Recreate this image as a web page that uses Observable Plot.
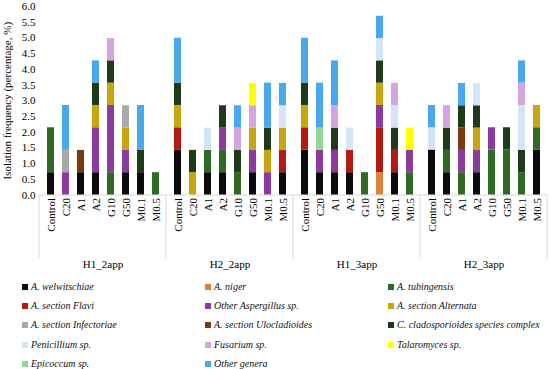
<!DOCTYPE html>
<html>
<head>
<meta charset="utf-8">
<script src="https://cdn.jsdelivr.net/npm/d3@7"></script>
<script src="https://cdn.jsdelivr.net/npm/@observablehq/plot@0.6"></script>
<style>
  html, body { margin: 0; padding: 0; background: #fff; }
  body { width: 550px; height: 369px; overflow: hidden; font-family: "Liberation Serif", serif; }
  #legend { position: relative; width: 550px; height: 97px; }
  .sw { position: absolute; width: 6px; height: 6px; }
  .lt { position: absolute; font-style: italic; font-size: 10px; line-height: 12px; white-space: nowrap; color: #111; }
</style>
</head>
<body>
<div id="chart"></div>
<div id="legend"></div>
<script>
// ---- Data ----
const groups = ["H1_2app", "H2_2app", "H1_3app", "H2_3app"];
const treatments = ["Control", "C20", "A1", "A2", "G10", "G50", "M0.1", "M0.5"];
const species = [
  "A. welwitschiae", "A. niger", "A. tubingensis",
  "A. section Flavi", "Other Aspergillus sp.", "A. section Alternata",
  "A. section Infectoriae", "A. section Ulocladioides", "C. cladosporioides species complex",
  "Penicillium sp.", "Fusarium sp.", "Talaromyces sp.",
  "Epicoccum sp.", "Other genera"
];
const colors = [
  "#0b0b0b", "#e0823a", "#2f6a24",
  "#b31b12", "#8a3b9c", "#c9a512",
  "#a9a9a9", "#7b3a12", "#1f3a1a",
  "#d3e5f7", "#d3a6dd", "#ffff00",
  "#93d892", "#4aa9ee"
];
// values per treatment, groups in order H1_2app, H2_2app, H1_3app, H2_3app
const welwitschiae = [0.71,0,0.71,0.71,0,0.71,0.71,0,  1.43,0,0.71,0.71,0,0.71,0,0.71,  1.43,0.71,0.71,0.71,0,0,0.71,0,  1.43,0.71,0,0.71,0,0,0,1.43];
const niger        = [0,0,0,0,0,0,0,0,  0,0,0,0,0,0,0,0,  0,0,0,0,0,0.71,0,0,  0,0,0,0,0,0,0,0];
const tubingensis  = [1.43,0,0,0,0.71,0,0,0.71,  0,0,0.71,0.71,0.71,0,0,0,  0,0,0,0,0.71,0,0,0.71,  0,0.71,0.71,0,1.43,1.43,0.71,0.71];
const flavi        = [0,0,0,0,0,0,0,0,  0.71,0,0,0,0,0,0,0.71,  0.71,0,0,0.71,0,1.43,0.71,0,  0,0,0,0,0,0,0,0];
const otherAsp     = [0,0.71,0,1.43,2.14,0.71,0,0,  0,0,0,0.71,0,0.71,0.71,0,  0,0.71,0.71,0,0,0.71,0,0.71,  0,0,0.71,0.71,0.71,0,0,0];
const alternata    = [0,0,0,0.71,0.71,0.71,0,0,  0.71,0.71,0,0,0,0.71,0.71,0.71,  0.71,0,0,0,0,0.71,0,0,  0,0,0,0.71,0,0,0,0.71];
const infectoriae  = [0,0.71,0,0,0,0.71,0,0,  0,0,0,0,0,0,0,0,  0,0,0,0,0,0,0,0,  0,0,0,0,0,0,0,0];
const ulocladioides= [0,0,0.71,0,0,0,0,0,  0,0,0,0,0,0,0,0,  0,0,0,0,0,0,0,0,  0,0,0.71,0,0,0,0,0];
const cladosporioides = [0,0,0,0.71,0.71,0,0.71,0,  0.71,0.71,0,0.71,0.71,0,0.71,0,  0.71,0,0.71,0,0,0.71,0.71,0,  0,0.71,0.71,0.71,0,0.71,0.71,0];
const penicillium  = [0,0,0,0,0,0,0,0,  0,0,0.71,0,0,0,0,0.71,  0,0,0,0.71,0,0.71,0.71,0,  0.71,0,0,0.71,0,0,1.43,0];
const fusarium     = [0,0,0,0,0.71,0,0,0,  0,0,0,0,0.71,0.71,0,0,  0,0,0.71,0,0,0,0.71,0,  0,0.71,0,0,0,0,0.71,0];
const talaromyces  = [0,0,0,0,0,0,0,0,  0,0,0,0,0,0.71,0,0,  0,0,0,0,0,0,0,0.71,  0,0,0,0,0,0,0,0];
const epicoccum    = [0,0,0,0,0,0,0,0,  0,0,0,0,0,0,0,0,  0,0.71,0,0,0,0,0,0,  0,0,0,0,0,0,0,0];
const otherGenera  = [0,1.43,0,0.71,0,0,1.43,0,  1.43,0,0,0,0.71,0,1.43,0.71,  1.43,1.43,1.43,0,0,0.71,0,0,  0.71,0,0.71,0,0,0,0.71,0];
const yTicks = [0, 0.5, 1.0, 1.5, 2.0, 2.5, 3.0, 3.5, 4.0, 4.5, 5.0, 5.5, 6.0];

const seriesValues = [welwitschiae, niger, tubingensis, flavi, otherAsp, alternata,
  infectoriae, ulocladioides, cladosporioides, penicillium, fusarium, talaromyces,
  epicoccum, otherGenera];

const rows = [];
species.forEach((sp, si) => {
  seriesValues[si].forEach((v, i) => {
    rows.push({
      species: sp,
      group: groups[Math.floor(i / treatments.length)],
      treatment: treatments[i % treatments.length],
      value: v
    });
  });
});

const H = 272;
const plot = Plot.plot({
  width: 550,
  height: H,
  marginLeft: 39,
  marginRight: 3,
  marginTop: 6,
  marginBottom: H - 194.5,
  style: { fontFamily: "Liberation Serif, serif", fontSize: "11px", color: "#000", background: "#fff" },
  fx: { domain: groups, padding: 0 },
  x: { domain: treatments, paddingInner: 0.56, paddingOuter: 0.28 },
  y: { domain: [0, 6] },
  color: { domain: species, range: colors },
  marks: [
    Plot.ruleY([0], { stroke: "#d9d9d9" }),
    Plot.barY(rows.filter(d => d.value > 0), {
      fx: "group", x: "treatment", y: "value", fill: "species", order: species
    }),
    Plot.axisY({
      ticks: yTicks, tickFormat: d3.format(".1f"), tickSize: 0, tickPadding: 4,
      label: "Isolation frequency (percentage, %)", labelAnchor: "center", labelArrow: "none",
      labelOffset: 36
    }),
    Plot.axisX({ tickRotate: -90, tickSize: 0, tickPadding: 3, label: null }),
    Plot.axisFx({ anchor: "bottom", tickSize: 0, label: null, dy: 56 })
  ]
});

// group separators from the category axis down through the group labels
const fxs = plot.scale("fx");
const ys = plot.scale("y");
const y0 = ys.apply(0);
const edges = groups.map(g => fxs.apply(g));
edges.push(fxs.apply(groups[groups.length - 1]) + fxs.bandwidth);
d3.select(plot).append("g")
  .attr("stroke", "#d9d9d9")
  .selectAll("line").data(edges).join("line")
  .attr("x1", d => d).attr("x2", d => d)
  .attr("y1", y0).attr("y2", H - 13);

document.getElementById("chart").appendChild(plot);

// legend (3 columns, row-major)
const color = plot.scale("color");
const legend = d3.select("#legend");
const colX = [22, 205, 388];
const rowY = [15, 34, 53, 73, 92];
species.forEach((sp, i) => {
  const c = i % 3, r = Math.floor(i / 3);
  legend.append("div").attr("class", "sw")
    .style("left", colX[c] + "px").style("top", (rowY[r] - 3) + "px")
    .style("background", color.apply(sp));
  legend.append("div").attr("class", "lt")
    .style("left", (colX[c] + 9) + "px").style("top", (rowY[r] - 6) + "px")
    .text(sp);
});
</script>
</body>
</html>
